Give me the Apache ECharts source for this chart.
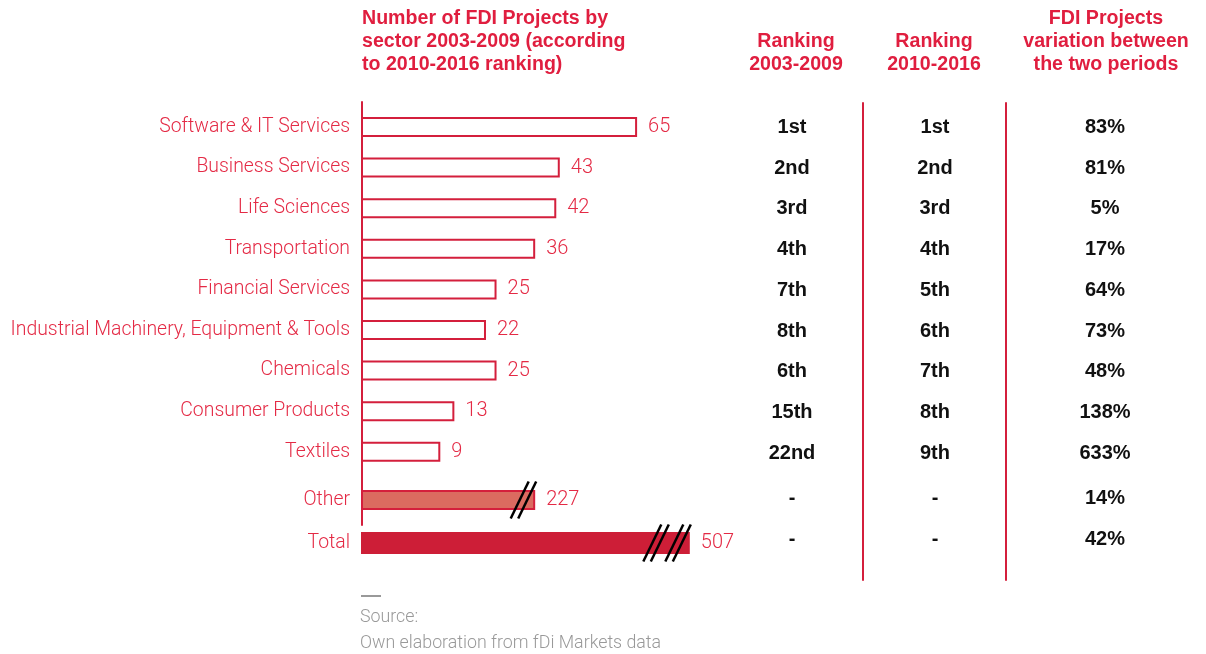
<!DOCTYPE html>
<html><head><meta charset="utf-8">
<script src="https://cdn.jsdelivr.net/npm/echarts@6/dist/echarts.min.js"></script>
<style>html,body{margin:0;padding:0;background:#fff}#c{width:1206px;height:654px}</style>
</head><body><div id="c"></div>
<script>
// ---------------- DATA ----------------
const sectors = ['Software & IT Services','Business Services','Life Sciences','Transportation','Financial Services','Industrial Machinery, Equipment & Tools','Chemicals','Consumer Products','Textiles','Other','Total'];
const projects2003_2009 = [65,43,42,36,25,22,25,13,9,227,507];
// Other and Total are drawn as broken (truncated) bars of these lengths
const brokenBarLength = [null,null,null,null,null,null,null,null,null,36,80];
const breakMarkPairs = [0,0,0,0,0,0,0,0,0,1,2];
const ranking2003_2009 = ['1st','2nd','3rd','4th','7th','8th','6th','15th','22nd','-','-'];
const ranking2010_2016 = ['1st','2nd','3rd','4th','5th','6th','7th','8th','9th','-','-'];
const variation = ['83%','81%','5%','17%','64%','73%','48%','138%','633%','14%','42%'];
const headerMain = 'Number of FDI Projects by\nsector 2003-2009 (according\nto 2010-2016 ranking)';
const headerRank1 = 'Ranking\n2003-2009';
const headerRank2 = 'Ranking\n2010-2016';
const headerVar = 'FDI Projects\nvariation between\nthe two periods';
const sourceLines = ['Source:', 'Own elaboration from fDi Markets data'];

// ---------------- STYLE / LAYOUT ----------------
const RED = '#D41F3C', TITLE_RED = '#E01E3F', LABEL_RED = '#E42A45';
const OTHER_FILL = '#DB6B60', TOTAL_FILL = '#CD1E37';
const LIGHT = 'Roboto', BOLD = 'Liberation Sans';
const X_MIN = -13, X_MAX = 100, BAR_LEFT = 362, PX_PER_UNIT = 3.514;

const barGroups = [
  {rows:[0,1,2,3,4,5,6,7,8], top:106.7, height:365.4, barH:18},
  {rows:[9], top:472, height:56, barH:18},
  {rows:[10], top:527, height:32, barH:20}
];
const tableGroups = [
  {rows:[0,1,2,3,4,5,6,7,8], top:107, height:366.75},
  {rows:[9], top:481.5, height:33.4},
  {rows:[10], top:522.5, height:33.4}
];
const tableCols = [
  {values:ranking2003_2009, center:792},
  {values:ranking2010_2016, center:935},
  {values:variation, center:1105}
];

const grid = [], xAxis = [], yAxis = [], series = [];
function addGrid(g, xa, ya){ grid.push(g); const gi = grid.length-1;
  xa.gridIndex = gi; ya.gridIndex = gi; xAxis.push(xa); yAxis.push(ya);
  return {x: xAxis.length-1, y: yAxis.length-1}; }

// Rules (bar axis line and table separators)
function addRule(left, top, height){
  addGrid({left:left, top:top, height:height, width:1},
    {type:'value', show:false, min:0, max:1},
    {type:'value', min:0, max:1, axisLine:{show:true, lineStyle:{color:RED, width:2}},
     axisTick:{show:false}, axisLabel:{show:false}, splitLine:{show:false}});
}
addRule(BAR_LEFT, 102, 423);
addRule(863, 103, 477);
addRule(1006, 103, 477);

// Bars
barGroups.forEach(function(g){
  const ax = addGrid({left:BAR_LEFT, top:g.top, height:g.height, width:(X_MAX-X_MIN)*PX_PER_UNIT},
    {type:'value', min:X_MIN, max:X_MAX, show:false},
    {type:'category', inverse:true, data:g.rows.map(i=>sectors[i]),
     axisLine:{show:false}, axisTick:{show:false},
     axisLabel:{color:LABEL_RED, fontFamily:LIGHT, fontWeight:300, fontSize:19.4, margin:12}});
  series.push({
    type:'custom', xAxisIndex:ax.x, yAxisIndex:ax.y, clip:false,
    data: g.rows.map(function(i, k){ return [brokenBarLength[i] != null ? brokenBarLength[i] : projects2003_2009[i], k, projects2003_2009[i], breakMarkPairs[i], i]; }),
    renderItem: function(params, api){
      const len = api.value(0), k = api.value(1), actual = api.value(2), pairs = api.value(3), si = api.value(4);
      const p0 = api.coord([X_MIN, k]), p1 = api.coord([len, k]);
      const h = g.barH, cy = p1[1];
      const fill = si === 10 ? TOTAL_FILL : (si === 9 ? OTHER_FILL : '#fff');
      const children = [{type:'rect', shape:{x:p0[0], y:cy-h/2, width:p1[0]-p0[0], height:h},
        style:{fill:fill, stroke:si === 10 ? TOTAL_FILL : RED, lineWidth:2}}];
      for (let pi=0; pi<pairs; pi++){
        [7, 14.5].forEach(function(off){
          const cx = p1[0] - off - 22*pi;
          children.push({type:'line', shape:{x1:cx-9, y1:cy+18.5, x2:cx+9, y2:cy-18.5},
            style:{stroke:'#000', lineWidth:2.5}});
        });
      }
      children.push({type:'text', x:p1[0]+12, y:cy,
        style:{text:String(actual), fill:LABEL_RED, font:'300 20px '+LIGHT, textVerticalAlign:'middle', textAlign:'left'}});
      return {type:'group', children:children};
    }
  });
});

// Table
tableCols.forEach(function(col){
  tableGroups.forEach(function(g){
    const ax = addGrid({left:col.center-70, top:g.top, height:g.height, width:140},
      {type:'value', min:-1, max:1, show:false},
      {type:'category', inverse:true, show:false, data:g.rows.map(i=>sectors[i])});
    series.push({
      type:'custom', xAxisIndex:ax.x, yAxisIndex:ax.y, clip:false,
      data: g.rows.map(function(i,k){ return [0, k, col.values[i]]; }),
      renderItem: function(params, api){
        const p = api.coord([0, api.value(1)]);
        return {type:'text', x:p[0], y:p[1],
          style:{text:col.values[g.rows[api.value(1)]], fill:'#111', font:'bold 20px '+BOLD,
                 textAlign:'center', textVerticalAlign:'middle'}};
      }
    });
  });
});

function headerText(text, x, topY, align){
  return {type:'text', x:x, y:topY, silent:true,
    style:{text:text, fill:TITLE_RED, font:'bold 19.6px '+BOLD, lineHeight:23,
           textAlign:align, textVerticalAlign:'top'}};
}

const graphic = [
  headerText(headerMain, 362, 7.5, 'left'),
  headerText(headerRank1, 796, 30.5, 'center'),
  headerText(headerRank2, 934, 30.5, 'center'),
  headerText(headerVar, 1106, 7.5, 'center'),
  {type:'rect', shape:{x:361, y:595, width:20, height:2}, style:{fill:'#999'}, silent:true},
  {type:'text', x:360, y:618, style:{text:sourceLines[0], fill:'#999', font:'300 17.8px '+LIGHT, textVerticalAlign:'middle'}},
  {type:'text', x:360, y:644, style:{text:sourceLines[1], fill:'#999', font:'300 17.8px '+LIGHT, textVerticalAlign:'middle'}}
];

const chart = echarts.init(document.getElementById('c'), null, {renderer:'canvas'});
chart.setOption({animation:false, backgroundColor:'#fff', grid:grid, xAxis:xAxis, yAxis:yAxis, series:series, graphic:graphic});
</script></body></html>
